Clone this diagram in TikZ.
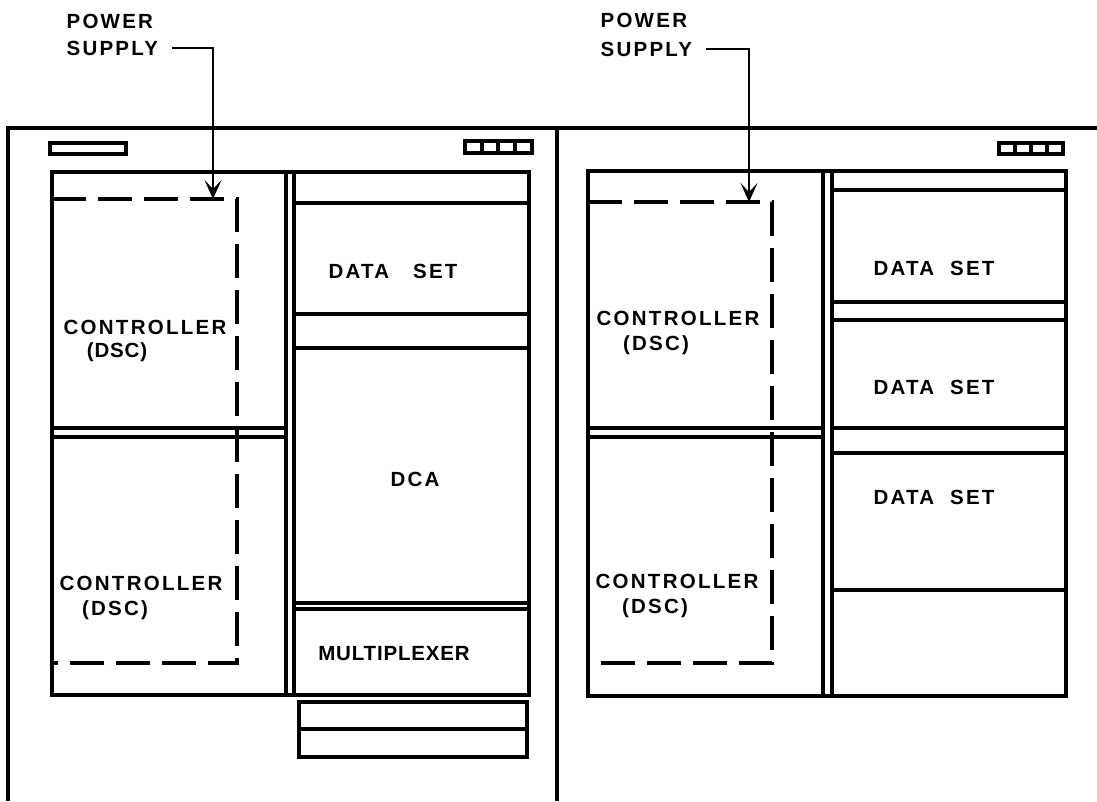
\documentclass[tikz,border=0pt]{standalone}
\usepackage{fontspec}
\usetikzlibrary{arrows.meta}
\newfontface\lblfont[LetterSpace=11]{Liberation Sans Bold}
\newfontface\lbltight[LetterSpace=4]{Liberation Sans Bold}
\begin{document}
\begin{tikzpicture}[x=1pt,y=-1pt,line width=3.2pt,
  lbl/.style={font=\lblfont\fontsize{20.5}{22}\selectfont,inner sep=0pt},
  lbltight/.style={font=\lbltight\fontsize{20.5}{22}\selectfont,inner sep=0pt},
  psarrow/.style={line width=2.4pt,-{Stealth[length=19pt,width=17pt,inset=9pt]},shorten <=12pt},
  dashbox/.style={dash pattern=on 34pt off 12pt}]
\fill[white] (0,0) rectangle (1097,801);
\useasboundingbox (0,0) rectangle (1097,801);

% cabinet outlines
\draw (8,801) -- (8,128) -- (1097,128);
\draw (557,128) -- (557,801);

% ---------- left cabinet ----------
\draw (50,143) rectangle (126,154);
\draw (465,141) rectangle (532,153);
\draw (482,141) -- (482,153) (498,141) -- (498,153) (515,141) -- (515,153);
\draw (52,172) rectangle (529,695);
\draw (286,172) -- (286,695) (294,172) -- (294,695);
\draw (52,428) -- (286,428) (52,437) -- (286,437);
\draw (294,203) -- (529,203) (294,314) -- (529,314) (294,348) -- (529,348)
      (294,603) -- (529,603) (294,609) -- (529,609);
\draw (299,702) rectangle (527,757);
\draw (299,729) -- (527,729);
\draw[dashbox] (52,199) -- (237,199) -- (237,663) -- (54,663);

% ---------- right cabinet ----------
\draw (999,143) rectangle (1063,154);
\draw (1015,143) -- (1015,154) (1031,143) -- (1031,154) (1047,143) -- (1047,154);
\draw (588,171) rectangle (1066,696);
\draw (823,171) -- (823,696) (832,171) -- (832,696);
\draw (588,428) -- (823,428) (588,437) -- (823,437);
\draw (832,190) -- (1066,190) (832,302) -- (1066,302) (832,320) -- (1066,320)
      (832,428) -- (1066,428) (832,453) -- (1066,453) (832,590) -- (1066,590);
\draw[dashbox] (588,202) -- (772,202) -- (772,663) -- (592,663);

% ---------- power supply labels ----------
\node[lbl,anchor=west] (psLa) at (65,21) {POWER};
\node[lbl,anchor=west] (psLb) at (65,48) {SUPPLY};
\coordinate (tipL) at (213,199);
\draw[psarrow] (psLb.east) -| (tipL);

\node[lbl,anchor=west] (psRa) at (599,20) {POWER};
\node[lbl,anchor=west] (psRb) at (599,49) {SUPPLY};
\coordinate (tipR) at (749,202);
\draw[psarrow] (psRb.east) -| (tipR);

% ---------- texts left ----------
\node[lbl] (ctlL1) at (145,327) {CONTROLLER};
\node[lbltight] (dscL1) at (117,352) {(DSC)};
\node[lbl] (ctlL2) at (141,583) {CONTROLLER};
\node[lbl] (dscL2) at (115,610) {(DSC)};
\node[lbl] (dsL) at (393,271) {DATA\hspace{16pt} SET};
\node[lbl] (dca) at (415,479) {DCA};
\node[lbltight] (mux) at (394,654) {MULTIPLEXER};

% ---------- texts right ----------
\node[lbl] (ctlR1) at (678,318) {CONTROLLER};
\node[lbl] (dscR1) at (656,345) {(DSC)};
\node[lbl] (ctlR2) at (677,581) {CONTROLLER};
\node[lbl] (dscR2) at (655,608) {(DSC)};
\node[lbl] (dsR1) at (934,268) {DATA\hspace{8pt} SET};
\node[lbl] (dsR2) at (934,387) {DATA\hspace{8pt} SET};
\node[lbl] (dsR3) at (934,497) {DATA\hspace{8pt} SET};
\end{tikzpicture}
\end{document}
